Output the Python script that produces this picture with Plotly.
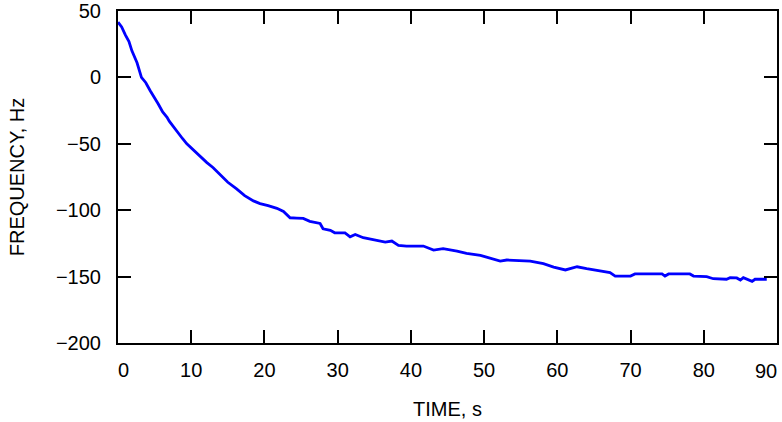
import plotly.graph_objects as go

time_s = [0, 0.5, 1.0, 1.5, 1.9, 2.6, 3.2, 3.8, 4.4, 5.0, 5.5, 6.1, 6.7, 7.0, 7.4, 8.2, 8.8, 9.4,
          10.7, 12.1, 13.0, 13.9, 15.0, 16.2, 17.3, 18.5, 19.4, 20.5, 21.7, 22.6, 23.5,
          24.4, 25.3, 26.2, 27.6, 28.0, 29.0, 29.6, 31.0, 31.7, 32.4, 33.5, 35.1, 36.5,
          37.4, 38.3, 39.4, 41.7, 43.1, 44.4, 46.3, 47.6, 49.5, 50.8, 52.2, 53.1, 56.3,
          58.1, 59.5, 61.1, 62.7, 64.0, 65.8, 67.2, 67.9, 70.0, 70.6, 74.3, 74.7, 75.2,
          78.1, 78.6, 80.4, 81.3, 83.1, 83.6, 84.5, 85.0, 85.4, 86.6, 87.0, 88.2, 88.6]
freq_hz = [41.6, 38, 32, 27, 20, 11, 0, -4, -10, -15, -20, -26, -30, -33, -36, -42, -46, -50,
           -57, -64, -68, -73, -79, -84, -89, -93, -95, -96.5, -98.6, -101, -105.7,
           -106, -106.2, -108.4, -110, -114, -115.2, -117, -117, -120, -118.3, -120.7,
           -122.5, -124, -123.2, -126.5, -127, -127, -130, -129, -130.8, -132.5, -134,
           -135.8, -138.3, -137.5, -138.3, -140.3, -142.8, -145, -142.6, -144, -145.8,
           -147, -149.6, -149.6, -148, -148, -149.6, -148, -148, -149.6, -150, -151.6,
           -152, -150.8, -151, -152.6, -150.8, -153.6, -152, -152.3, -152.0]

x_ticks = [0, 10, 20, 30, 40, 50, 60, 70, 80, 90]
x_ticktext = ["\u00a0\u00a00", "10", "20", "30", "40", "50", "60", "70", "80", ""]
x_last_label = "90"
y_ticks = [50, 0, -50, -100, -150, -200]
y_ticktext = ["50", "0", "\u221250", "\u2212100", "\u2212150", "\u2212200"]

fig = go.Figure()
fig.add_trace(go.Scatter(x=time_s, y=freq_hz, mode="lines",
                         line=dict(color="#0000ff", width=2.8), showlegend=False))

font_family = "Liberation Sans, Arial, Helvetica, sans-serif"
axis_common = dict(showgrid=False, zeroline=False, showline=True, linecolor="black",
                   linewidth=2, mirror="ticks", ticks="inside", ticklen=13,
                   tickwidth=1.5, tickcolor="black", ticklabeloverflow="allow",
                   automargin=False,
                   tickfont=dict(family=font_family, size=20, color="black"))

fig.update_layout(
    width=782, height=422,
    margin=dict(l=118, r=5, t=11, b=79),
    paper_bgcolor="white", plot_bgcolor="white",
    xaxis=dict(range=[0, 90], tickvals=x_ticks, ticktext=x_ticktext,
               ticklabelstandoff=8,
               title=dict(text="TIME, s", font=dict(family=font_family, size=20, color="black"),
                          standoff=22),
               **axis_common),
    yaxis=dict(range=[-200, 50], tickvals=y_ticks, ticktext=y_ticktext,
               ticklabelstandoff=11,
               title=dict(text="FREQUENCY, Hz", font=dict(family=font_family, size=20, color="black"),
                          standoff=26),
               **axis_common),
)

fig.add_annotation(x=x_ticks[-1], xref="x", y=0, yref="paper", text=x_last_label,
                   showarrow=False, xanchor="right", yanchor="top", xshift=2, yshift=-15,
                   font=dict(family=font_family, size=20, color="black"))

fig.write_html("out.html")
